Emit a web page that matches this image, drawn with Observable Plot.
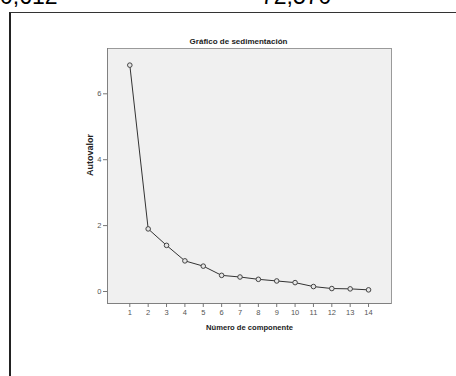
<!DOCTYPE html>
<html>
<head>
<meta charset="utf-8">
<script src="https://cdn.jsdelivr.net/npm/d3@7"></script>
<script src="https://cdn.jsdelivr.net/npm/@observablehq/plot@0.6"></script>
<style>
  html, body { margin: 0; padding: 0; background: #fff; width: 456px; height: 376px; overflow: hidden; }
  #wrap { position: relative; width: 456px; height: 376px; }
  .top { position: absolute; font-family: "Liberation Sans", Arial, sans-serif; font-size: 23px; line-height: 1; color: #000; top: -15px; white-space: nowrap; }
  #box { position: absolute; left: 9px; top: 12px; width: 460px; height: 380px; border-left: 2px solid #222; border-top: 1.5px solid #333; }
  #chart { position: absolute; left: 0; top: 0; }
</style>
</head>
<body>
<div id="wrap">
  <div class="top" style="left:0px">0,612</div>
  <div class="top" style="left:261px">72,570</div>
  <div id="box"></div>
  <div id="chart"></div>
</div>
<script>
const componentes = [1, 2, 3, 4, 5, 6, 7, 8, 9, 10, 11, 12, 13, 14];
const autovalores = [6.87, 1.90, 1.40, 0.93, 0.77, 0.49, 0.44, 0.37, 0.32, 0.27, 0.15, 0.09, 0.08, 0.05];
const yTicks = [0, 2, 4, 6];
const titulo = "Gráfico de sedimentación";
const etiquetaX = "Número de componente";
const etiquetaY = "Autovalor";

const data = componentes.map((c, i) => ({c, v: autovalores[i]}));

const chart = Plot.plot({
  width: 456,
  height: 376,
  marginLeft: 107,
  marginRight: 65,
  marginTop: 48,
  marginBottom: 73,
  style: {fontFamily: "Liberation Sans, Arial, sans-serif", background: "transparent", overflow: "visible"},
  x: {domain: [-0.215, 15.25], label: null},
  y: {domain: [-0.364, 7.375], label: null},
  marks: [
    Plot.frame({fill: "#f0f0f0", stroke: "#9a9a9a", strokeWidth: 1}),
    Plot.ruleX([-0.215], {stroke: "#808080"}),
    Plot.ruleY([-0.364], {stroke: "#808080"}),
    Plot.axisX(componentes, {tickSize: 4, tickPadding: 2, stroke: "#777", fill: "#555", fontSize: 7.5, tickFormat: d => String(d), label: null}),
    Plot.axisY(yTicks, {tickSize: 4, tickPadding: 2, stroke: "#777", fill: "#555", fontSize: 7.5, tickFormat: d => String(d), label: null}),
    Plot.line(data, {x: "c", y: "v", stroke: "#333", strokeWidth: 1}),
    Plot.dot(data, {x: "c", y: "v", r: 2.3, stroke: "#444", fill: "#e6e6e6", strokeWidth: 1}),
    Plot.text([titulo], {frameAnchor: "top", dx: -11, dy: -5, lineAnchor: "bottom", fontWeight: "bold", fontSize: 8, fill: "#222"}),
    Plot.text([etiquetaX], {frameAnchor: "bottom", dy: 26, lineAnchor: "bottom", fontWeight: "bold", fontSize: 7.6, fill: "#222"}),
    Plot.text([etiquetaY], {frameAnchor: "left", dx: -17, rotate: -90, fontWeight: "bold", fontSize: 9, fill: "#222"})
  ]
});
document.getElementById("chart").appendChild(chart);
</script>
</body>
</html>
